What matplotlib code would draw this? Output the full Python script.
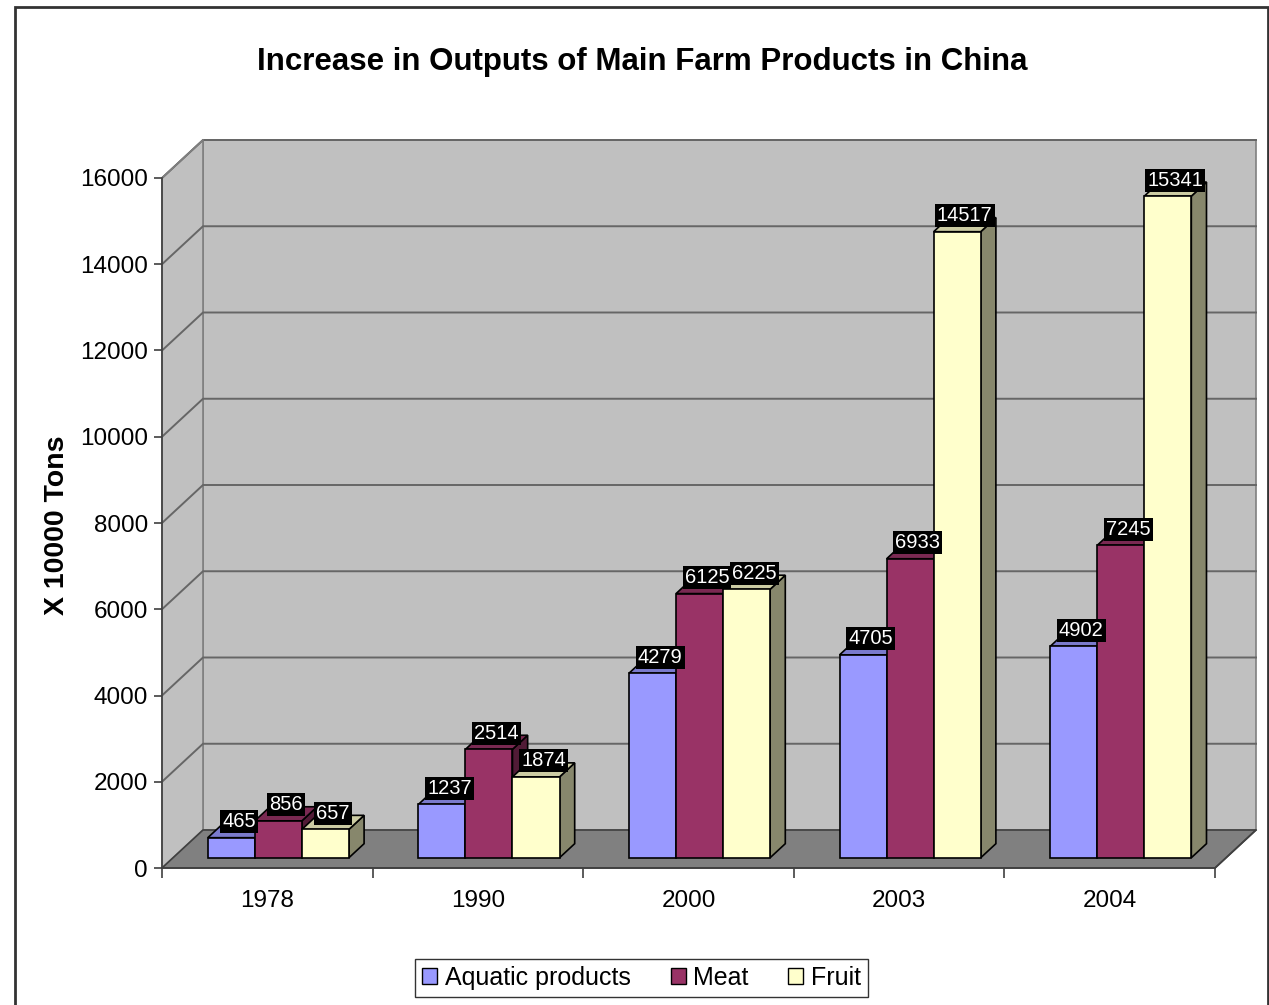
import matplotlib.pyplot as plt
from matplotlib.patches import Polygon, Patch, Rectangle
import numpy as np

years = ["1978", "1990", "2000", "2003", "2004"]
series = ["Aquatic products", "Meat", "Fruit"]
aquatic = [465, 1237, 4279, 4705, 4902]
meat = [856, 2514, 6125, 6933, 7245]
fruit = [657, 1874, 6225, 14517, 15341]
values = [aquatic, meat, fruit]

face_colors = ["#9999FF", "#993366", "#FFFFCC"]

narrow = ["Liberation Sans Narrow", "Liberation Sans", "DejaVu Sans"]
plain = ["Liberation Sans", "DejaVu Sans"]


def shade(hex_color, k):
    c = np.array([int(hex_color[i:i + 2], 16) for i in (1, 3, 5)]) / 255.0
    return tuple(c * k)


W, H = 1269, 1005
fig = plt.figure(figsize=(W / 100, H / 100), dpi=100)

# front plane of the 3d box in pixels
left_px, right_px, bottom_px, top_px = 162, 1215, 868, 178
ax = fig.add_axes([left_px / W, 1 - bottom_px / H,
                   (right_px - left_px) / W, (bottom_px - top_px) / H])
ymax = 16000
ncat = len(years)
ax.set_xlim(0, ncat)
ax.set_ylim(0, ymax)

px_x = (right_px - left_px) / ncat        # pixels per category
px_y = (bottom_px - top_px) / ymax        # pixels per unit


def depth(dx_px, dy_px):
    return dx_px / px_x, dy_px / px_y


DX, DY = depth(41, 38)
wall = "#C0C0C0"
edge = "#808080"

# walls and floor
ax.add_patch(Polygon([(DX, DY), (ncat + DX, DY), (ncat + DX, ymax + DY), (DX, ymax + DY)],
                     closed=True, fc=wall, ec=edge, lw=1.2, clip_on=False, zorder=1))
ax.add_patch(Polygon([(0, 0), (DX, DY), (DX, ymax + DY), (0, ymax)],
                     closed=True, fc=wall, ec=edge, lw=1.2, clip_on=False, zorder=1))
ax.add_patch(Polygon([(0, 0), (ncat, 0), (ncat + DX, DY), (DX, DY)],
                     closed=True, fc="#808080", ec="#404040", lw=1.2, clip_on=False, zorder=2))

# gridlines on side and back walls
for v in range(2000, ymax + 1, 2000):
    ax.plot([0, DX, ncat + DX], [v, v + DY, v + DY], color="#666666", lw=1.4,
            clip_on=False, zorder=1.5)

# bars
f0, fb = 0.27, 0.37
bx0, by0 = f0 * DX, f0 * DY
bdx, bdy = fb * DX, fb * DY
margin = 0.165
bw = (1 - 2 * margin) / len(series)

for i in range(ncat):
    for j, vals in enumerate(values):
        v = vals[i]
        xl = i + margin + j * bw + bx0
        xr = xl + bw
        col = face_colors[j]
        front = [(xl, by0), (xr, by0), (xr, by0 + v), (xl, by0 + v)]
        top = [(xl, by0 + v), (xr, by0 + v), (xr + bdx, by0 + v + bdy), (xl + bdx, by0 + v + bdy)]
        side = [(xr, by0), (xr + bdx, by0 + bdy), (xr + bdx, by0 + v + bdy), (xr, by0 + v)]
        z = 3 + i * 0.1 + j * 0.01
        ax.add_patch(Polygon(side, closed=True, fc=shade(col, 0.53), ec="black", lw=1.2,
                             clip_on=False, zorder=z))
        ax.add_patch(Polygon(top, closed=True, fc=shade(col, 0.8), ec="black", lw=1.2,
                             clip_on=False, zorder=z))
        ax.add_patch(Polygon(front, closed=True, fc=col, ec="black", lw=1.2,
                             clip_on=False, zorder=z))
        ax.annotate(str(v), xy=(xl + bw / 2 + bdx / 2, by0 + v + bdy / 2),
                    xytext=(0, 9), textcoords="offset pixels",
                    ha="center", va="center", color="white", fontsize=14.5,
                    family=narrow, zorder=10, annotation_clip=False,
                    bbox=dict(boxstyle="square,pad=0.1", fc="black", ec="none"))

# axes lines and ticks
for s in ["top", "right"]:
    ax.spines[s].set_visible(False)
for s in ["left", "bottom"]:
    ax.spines[s].set_color("#404040")
    ax.spines[s].set_linewidth(1.2)
    ax.spines[s].set_zorder(2.5)
ax.plot([ncat, ncat + DX], [0, DY], color="#404040", lw=1.2, clip_on=False, zorder=2.5)
ax.plot([0, DX], [ymax, ymax + DY], color="#808080", lw=1.2, clip_on=False, zorder=1.6)

ax.set_yticks(range(0, ymax + 1, 2000))
ax.set_yticklabels([str(v) for v in range(0, ymax + 1, 2000)], family=narrow, fontsize=17.5)
ax.tick_params(axis="y", direction="out", length=6, width=1.2, color="#404040", pad=4)
ax.set_xticks(range(ncat + 1))
ax.set_xticklabels([])
ax.tick_params(axis="x", which="major", direction="out", length=7, width=1.2, color="#404040")
ax.set_xticks(np.arange(ncat) + 0.5, minor=True)
ax.set_xticklabels(years, minor=True, family=narrow, fontsize=17.5)
ax.tick_params(axis="x", which="minor", length=0, pad=16)
ax.set_facecolor("none")

fig.text(57 / W, 1 - 525 / H, "X 10000 Tons", rotation=90, ha="center", va="center",
         fontsize=20.5, fontweight="bold", family=plain)
fig.text(642 / W, 1 - 62 / H, "Increase in Outputs of Main Farm Products in China",
         ha="center", va="center", fontsize=22.5, fontweight="bold", family=narrow)

handles = [Patch(fc=c, ec="black", lw=1.0) for c in face_colors]
leg = fig.legend(handles, series, loc="center", bbox_to_anchor=(641.5 / W, 1 - 978 / H),
                 ncol=3, frameon=True, fancybox=False, prop={"family": narrow, "size": 18},
                 handlelength=0.6, handleheight=0.6, handletextpad=0.3, columnspacing=1.6,
                 borderpad=0.3, borderaxespad=0, edgecolor="black")
leg.get_frame().set_linewidth(1.0)

# outer chart border
fig.patches.append(Rectangle((15 / W, -0.05), (1268 - 15) / W, 1 - 7 / H + 0.05,
                             transform=fig.transFigure, fill=False, ec="#333333", lw=2))

fig.savefig("out.png", dpi=100)
